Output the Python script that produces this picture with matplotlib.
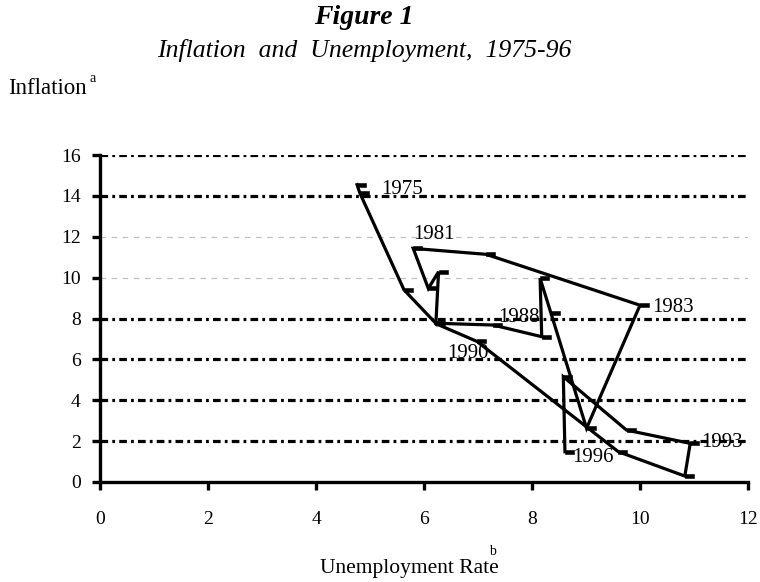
import matplotlib
matplotlib.use("Agg")
import matplotlib.pyplot as plt
from matplotlib.path import Path

plt.rcParams['font.family'] = ['Liberation Serif', 'DejaVu Serif']
plt.rcParams['lines.scale_dashes'] = False

# values
years = list(range(1975, 1997))
unemp = [4.76, 4.81, 5.63, 6.22, 6.27, 6.08, 5.80, 7.15, 10.00, 9.01, 8.35,
         8.15, 8.18, 7.28, 6.20, 6.98, 9.60, 10.83, 10.93, 9.75, 8.58, 8.61]
infl = [14.55, 14.15, 9.40, 7.76, 10.29, 9.47, 11.43, 11.14, 8.65, 2.63, 8.27,
        9.97, 7.11, 7.68, 7.77, 6.88, 1.48, 0.29, 1.89, 2.54, 5.15, 1.48]

labelled = [1975, 1981, 1983, 1988, 1990, 1993, 1996]
label_pos = [(5.2, 14.3), (5.8, 12.1), (10.22, 8.55), (7.37, 8.07),
             (6.42, 6.3), (11.14, 1.94), (8.75, 1.2)]

x_ticks = [0, 2, 4, 6, 8, 10, 12]
y_ticks = [0, 2, 4, 6, 8, 10, 12, 14, 16]
dark_grid = [2, 4, 6, 8, 14, 16]
light_grid = [10, 12]

# dash marker that starts at the point and runs to the right
dash = Path([(0, -0.22), (1, -0.22), (1, 0.22), (0, 0.22), (0, -0.22)],
            [Path.MOVETO, Path.LINETO, Path.LINETO, Path.LINETO, Path.CLOSEPOLY])

fig = plt.figure(figsize=(7.6, 5.82), dpi=100)
ax = fig.add_axes([100 / 760, 1 - 482 / 582, 648 / 760, 327 / 582])

for g in dark_grid:
    ax.axhline(g, color='black', lw=2.3, linestyle=(0, (5.5, 3, 2, 3)), zorder=1)
for g in light_grid:
    ax.axhline(g, color='#c0c0c0', lw=0.9, linestyle=(0, (4, 4)), zorder=1)

ax.plot(unemp, infl, color='black', lw=2.3, marker=dash, markersize=13,
        markerfacecolor='black', markeredgecolor='black', markeredgewidth=0.4,
        solid_joinstyle='miter', zorder=3)

for yr, (lx, ly) in zip(labelled, label_pos):
    ax.text(lx, ly, str(yr), fontsize=15, ha='left', va='center', zorder=4)

ax.set_xlim(0, 12)
ax.set_ylim(0, 16)
ax.set_xticks(x_ticks)
ax.set_yticks(y_ticks)
ax.tick_params(axis='both', direction='out', length=6, width=2.4, labelsize=14)
ax.tick_params(axis='x', pad=15)
ax.tick_params(axis='y', pad=8)
for side in ['top', 'right']:
    ax.spines[side].set_visible(False)
for side in ['left', 'bottom']:
    ax.spines[side].set_linewidth(2.4)
    ax.spines[side].set_zorder(5)

fig.text(364 / 760, 1 - 18 / 582, 'Figure 1', fontsize=20, fontweight='bold',
         fontstyle='italic', ha='center', va='center')
fig.text(364 / 760, 1 - 50 / 582, 'Inflation  and  Unemployment,  1975-96', fontsize=18.5,
         fontstyle='italic', ha='center', va='center')

t1 = fig.text(8 / 760, 1 - 88 / 582, 'Inflation', fontsize=16.5, ha='left', va='center')
ax.annotate('a', xy=(1.0, 1.0), xycoords=t1, xytext=(2, -1), textcoords='offset points',
            fontsize=10, ha='left', va='center', annotation_clip=False)
t2 = fig.text(409 / 760, 1 - 568 / 582, 'Unemployment Rate', fontsize=15.5, ha='center', va='center')
ax.annotate('b', xy=(0.965, 1.0), xycoords=t2, xytext=(0, 0.5), textcoords='offset points',
            fontsize=10, ha='center', va='bottom', annotation_clip=False)

fig.savefig('out.png', dpi=100)
